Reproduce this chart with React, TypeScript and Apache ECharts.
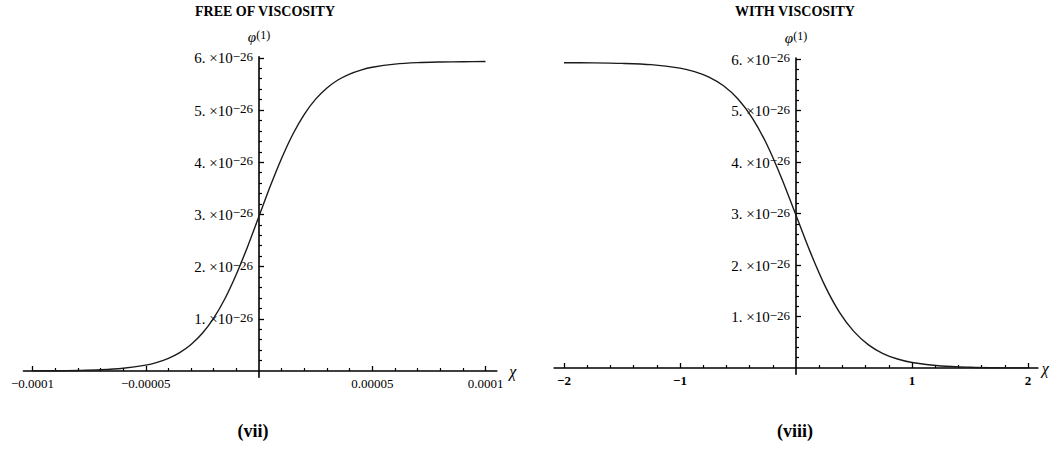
import React, { useEffect, useRef } from 'react';
import * as echarts from 'echarts';

const SERIF = '"Liberation Serif", "Times New Roman", serif';

// Panel (vii): free of viscosity. chi values and phi^(1) values in units of 1e-26
const leftChi = [-0.0001, -0.00009, -0.00008, -0.00007, -0.00006, -0.00005, -0.000045, -0.00004, -0.000035, -0.00003, -0.000025, -0.00002, -0.000015, -0.00001, -0.000005, 0, 0.000005, 0.00001, 0.000015, 0.00002, 0.000025, 0.00003, 0.000035, 0.00004, 0.000045, 0.00005, 0.00006, 0.00007, 0.00008, 0.00009, 0.0001];
const leftPhi = [0.002, 0.005, 0.011, 0.023, 0.052, 0.112, 0.165, 0.241, 0.351, 0.507, 0.722, 1.013, 1.389, 1.853, 2.387, 2.965, 3.543, 4.077, 4.541, 4.917, 5.208, 5.423, 5.579, 5.689, 5.765, 5.818, 5.878, 5.907, 5.919, 5.925, 5.928];

// Panel (viii): with viscosity
const rightChi = [-2, -1.75, -1.5, -1.25, -1, -0.875, -0.75, -0.625, -0.5, -0.375, -0.25, -0.125, 0, 0.125, 0.25, 0.375, 0.5, 0.625, 0.75, 0.875, 1, 1.25, 1.5, 1.75, 2];
const rightPhi = [5.928, 5.925, 5.915, 5.89, 5.823, 5.756, 5.649, 5.48, 5.224, 4.849, 4.335, 3.69, 2.965, 2.24, 1.595, 1.081, 0.706, 0.45, 0.281, 0.174, 0.107, 0.04, 0.015, 0.005, 0.002];

// tick values and labels
const leftXTicks = [-0.0001, -0.00005, 0.00005, 0.0001];
const leftXLabels = ['−0.0001', '−0.00005', '0.00005', '0.0001'];
const rightXTicks = [-2, -1, 1, 2];
const rightXLabels = ['−2', '−1', '1', '2'];
const yTicks = [1, 2, 3, 4, 5, 6];
const yMantissa = ['1.', '2.', '3.', '4.', '5.', '6.'];
const yExponent = '−26';

const titles = ['FREE OF VISCOSITY', 'WITH VISCOSITY'];
const captions = ['(vii)', '(viii)'];

const LX = [-0.000104, 0.000105];
const RX = [-2.085, 2.085];
const YR = [-0.12, 6.02];

function minorList(from: number, to: number, step: number, skipEvery: number) {
  const out: number[] = [];
  const n = Math.round((to - from) / step);
  for (let k = 0; k <= n; k++) {
    if (k % skipEvery === 0) continue;
    out.push(Number((from + k * step).toFixed(8)));
  }
  return out;
}

const leftXMinor = minorList(-0.0001, 0.0001, 0.00001, 5);
const rightXMinor = minorList(-2, 2, 0.2, 5);
const yMinor = minorList(0, 6, 0.2, 5);

function labelFor(ticks: number[], labels: string[]) {
  return (v: number) => {
    for (let i = 0; i < ticks.length; i++) {
      if (Math.abs(ticks[i] - v) < Math.abs(ticks[i]) * 1e-6 + 1e-12) return labels[i];
    }
    return '';
  };
}

function xAxes(grid: number, range: number[], ticks: number[], labels: string[], minor: number[], offset: number, bold: boolean) {
  const major = {
    type: 'value', gridIndex: grid, min: range[0], max: range[1], position: 'bottom', offset,
    axisLine: { show: true, onZero: false, lineStyle: { color: '#000', width: 1.6 } },
    axisTick: { show: true, inside: true, length: 5, customValues: ticks, lineStyle: { color: '#000', width: 1.3 } },
    axisLabel: {
      show: true, customValues: ticks, formatter: labelFor(ticks, labels), margin: 6,
      fontFamily: SERIF, fontSize: 13, fontWeight: bold ? 'bold' : 'normal', color: '#000',
    },
    splitLine: { show: false },
    name: 'χ', nameLocation: 'end', nameGap: 4,
    nameTextStyle: { fontFamily: SERIF, fontStyle: 'italic', fontSize: 16, color: '#000', padding: [6, 0, 0, 0] },
  };
  const min = {
    type: 'value', gridIndex: grid, min: range[0], max: range[1], position: 'bottom', offset,
    axisLine: { show: false, onZero: false },
    axisTick: { show: true, inside: true, length: 3, customValues: minor, lineStyle: { color: '#000', width: 1.2 } },
    axisLabel: { show: false },
    splitLine: { show: false },
  };
  return [major, min];
}

function yAxes(grid: number, offset: number) {
  const major = {
    type: 'value', gridIndex: grid, min: YR[0], max: YR[1], position: 'left', offset,
    axisLine: { show: true, onZero: false, lineStyle: { color: '#000', width: 1.6 } },
    axisTick: { show: true, inside: true, length: 5, customValues: yTicks, lineStyle: { color: '#000', width: 1.3 } },
    axisLabel: {
      show: true, customValues: yTicks, margin: 6,
      formatter: (v: number) => {
        const i = yTicks.indexOf(Math.round(v));
        return i < 0 ? '' : `{b|${yMantissa[i]} ×10}{s|${yExponent}}`;
      },
      rich: {
        b: { fontFamily: SERIF, fontSize: 15, color: '#000', verticalAlign: 'bottom', lineHeight: 16 },
        s: { fontFamily: SERIF, fontSize: 13, color: '#000', verticalAlign: 'top', lineHeight: 13, padding: [0, 0, 8, 0] },
      },
    },
    splitLine: { show: false },
    name: '{p|φ}{s|(1)}', nameLocation: 'end', nameGap: 12,
    nameTextStyle: {
      rich: {
        p: { fontFamily: SERIF, fontSize: 15, fontStyle: 'italic', color: '#000', verticalAlign: 'bottom', lineHeight: 16 },
        s: { fontFamily: SERIF, fontSize: 12, color: '#000', verticalAlign: 'top', lineHeight: 12, padding: [0, 0, 9, 0] },
      },
    },
  };
  const min = {
    type: 'value', gridIndex: grid, min: YR[0], max: YR[1], position: 'left', offset,
    axisLine: { show: false, onZero: false },
    axisTick: { show: true, inside: true, length: 3, customValues: yMinor, lineStyle: { color: '#000', width: 1.2 } },
    axisLabel: { show: false },
    splitLine: { show: false },
  };
  return [major, min];
}

// pixel layout
const LEFT_ZERO_X = 259, LEFT_PX_PER = 2265000, LEFT_ZERO_Y = 371, LEFT_PY = 52.2;
const RIGHT_ZERO_X = 796, RIGHT_PX_PER = 116, RIGHT_ZERO_Y = 368, RIGHT_PY = 51.5;

export default function App() {
  const ref = useRef<HTMLDivElement>(null);
  useEffect(() => {
    if (!ref.current) return;
    const chart = echarts.init(ref.current, null, { renderer: 'svg' });
    const g0 = {
      left: LEFT_ZERO_X + LX[0] * LEFT_PX_PER,
      width: (LX[1] - LX[0]) * LEFT_PX_PER,
      top: LEFT_ZERO_Y - YR[1] * LEFT_PY,
      height: (YR[1] - YR[0]) * LEFT_PY,
    };
    const g1 = {
      left: RIGHT_ZERO_X + RX[0] * RIGHT_PX_PER,
      width: (RX[1] - RX[0]) * RIGHT_PX_PER,
      top: RIGHT_ZERO_Y - YR[1] * RIGHT_PY,
      height: (YR[1] - YR[0]) * RIGHT_PY,
    };
    // offsets that bring each axis onto the other axis' zero
    const leftYOffset = LX[0] * LEFT_PX_PER;
    const rightYOffset = RX[0] * RIGHT_PX_PER;
    const leftXOffset = YR[0] * LEFT_PY;
    const rightXOffset = YR[0] * RIGHT_PY;
    const textEl = (t: string, x: number, y: number, font: string) => ({
      type: 'text', x, y,
      style: { text: t, font, fill: '#000', textAlign: 'center', textVerticalAlign: 'middle', align: 'center', verticalAlign: 'middle' },
    });
    const option: any = {
      animation: false,
      backgroundColor: '#fff',
      grid: [
        { ...g0, containLabel: false, outerBoundsMode: 'none', show: false },
        { ...g1, containLabel: false, outerBoundsMode: 'none', show: false },
      ],
      xAxis: [
        ...xAxes(0, LX, leftXTicks, leftXLabels, leftXMinor, leftXOffset, false),
        ...xAxes(1, RX, rightXTicks, rightXLabels, rightXMinor, rightXOffset, true),
      ],
      yAxis: [
        ...yAxes(0, leftYOffset),
        ...yAxes(1, rightYOffset),
      ],
      series: [
        {
          type: 'line', xAxisIndex: 0, yAxisIndex: 0, showSymbol: false, smooth: 0.3,
          lineStyle: { color: '#1a1a1a', width: 1.4 },
          data: leftChi.map((x, i) => [x, leftPhi[i]]),
        },
        {
          type: 'line', xAxisIndex: 2, yAxisIndex: 2, showSymbol: false, smooth: 0.3,
          lineStyle: { color: '#1a1a1a', width: 1.4 },
          data: rightChi.map((x, i) => [x, rightPhi[i]]),
        },
      ],
      graphic: [
        textEl(titles[0], 265, 11, `bold 14px ${SERIF}`),
        textEl(titles[1], 795, 11, `bold 14px ${SERIF}`),
        textEl(captions[0], 253, 431, `bold 18px ${SERIF}`),
        textEl(captions[1], 795, 431, `bold 18px ${SERIF}`),
      ],
    };
    chart.setOption(option);
    return () => chart.dispose();
  }, []);
  return (
    <div
      ref={ref}
      style={{ position: 'fixed', left: 0, top: 0, width: 1062, height: 450, background: '#fff' }}
    />
  );
}
